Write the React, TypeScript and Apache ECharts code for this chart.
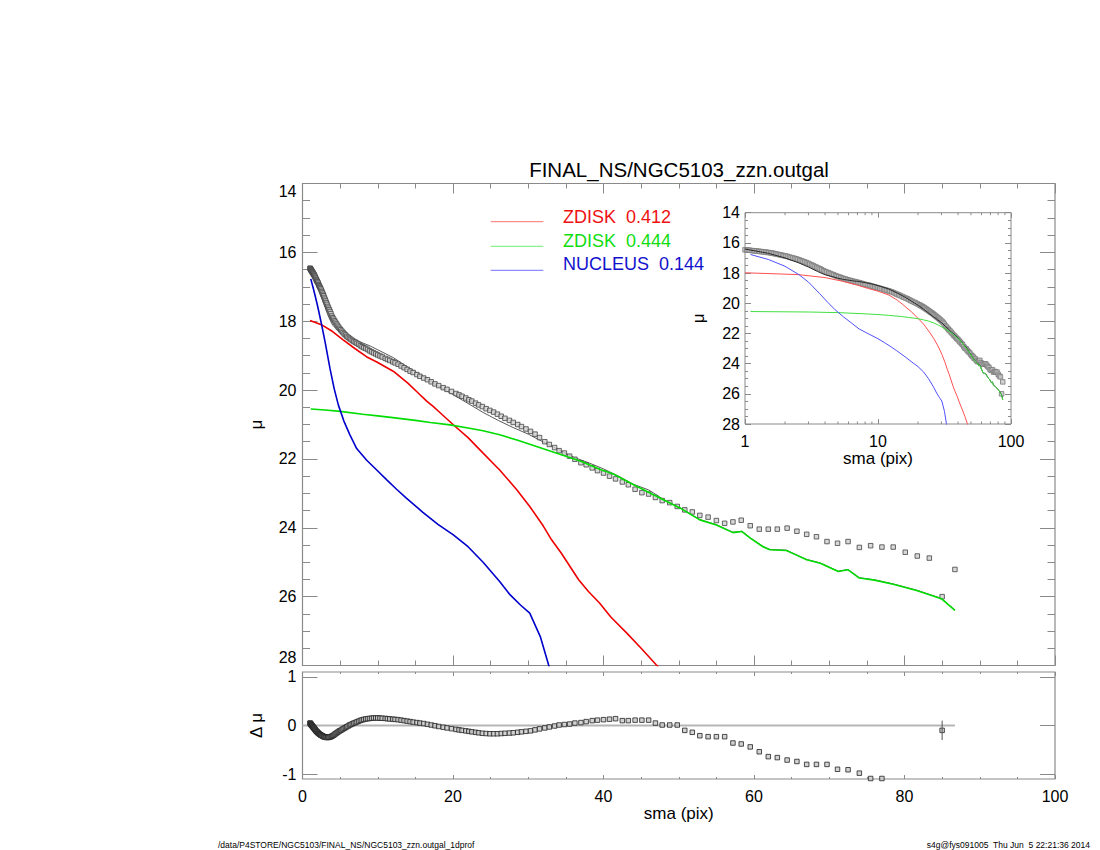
import React, { useEffect, useRef } from "react";
import * as echarts from "echarts";

const FONT = "Liberation Sans, Arial, Helvetica, sans-serif";

// observed profile (sma in pix, surface brightness mu)
const sma = [
  1.00,1.03,1.06,1.09,1.13,1.16,1.19,1.23,1.27,1.30,
  1.34,1.38,1.43,1.47,1.51,1.56,1.60,1.65,1.70,1.75,
  1.81,1.86,1.92,1.97,2.03,2.09,2.16,2.22,2.29,2.36,
  2.43,2.50,2.58,2.65,2.73,2.81,2.90,2.99,3.07,3.17,
  3.26,3.36,3.46,3.56,3.67,3.78,3.90,4.01,4.13,4.26,
  4.38,4.52,4.65,4.79,4.93,5.08,5.24,5.39,5.55,5.72,
  5.89,6.07,6.25,6.44,6.63,6.83,7.03,7.24,7.46,7.69,
  7.92,8.15,8.40,8.65,8.91,9.18,9.45,9.73,10.0,10.3,
  10.6,11.0,11.3,11.6,12.0,12.3,12.7,13.1,13.5,13.9,
  14.3,14.7,15.2,15.6,16.1,16.6,17.1,17.6,18.1,18.7,
  19.2,19.8,
  20.4,20.8,21.2,21.7,22.1,22.5,23.0,23.4,23.9,24.4,24.9,25.4,25.9,26.4,26.9,27.5,28.0,28.6,29.1,29.7,
  30.3,30.9,31.5,32.2,32.8,33.5,34.1,34.8,35.5,36.2,37.0,37.7,38.5,39.2,40.0,40.8,41.6,42.5,43.3,44.2,
  45.1,46.0,46.9,47.8,48.8,49.8,50.8,51.8,52.8,53.9,55.0,56.1,57.2,58.3,59.5,60.7,61.9,63.1,64.4,65.7,
  67.0,68.3,69.7,71.1,72.5,74.0,75.5,77.0,78.5,80.1,81.7,83.3,85.0,86.7];

const mu = [
  16.46,16.47,16.48,16.49,16.51,16.52,16.53,16.54,16.56,16.57,
  16.58,16.60,16.61,16.63,16.64,16.66,16.68,16.70,16.73,16.75,
  16.78,16.80,16.83,16.85,16.87,16.90,16.94,16.97,17.00,17.03,
  17.06,17.10,17.14,17.18,17.22,17.26,17.31,17.36,17.41,17.46,
  17.51,17.57,17.62,17.67,17.72,17.78,17.85,17.90,17.94,17.99,
  18.03,18.08,18.12,18.17,18.21,18.25,18.29,18.33,18.37,18.40,
  18.44,18.47,18.50,18.53,18.56,18.59,18.61,18.64,18.67,18.71,
  18.74,18.77,18.79,18.82,18.86,18.89,18.92,18.95,18.98,19.01,
  19.04,19.08,19.11,19.14,19.18,19.21,19.25,19.30,19.35,19.40,
  19.45,19.49,19.55,19.60,19.65,19.70,19.76,19.82,19.87,19.93,
  19.98,20.04,
  20.10,20.14,20.18,20.23,20.28,20.32,20.38,20.43,20.48,20.54,20.59,20.64,20.70,20.76,20.82,20.88,20.94,21.00,21.06,21.13,
  21.20,21.28,21.38,21.50,21.58,21.67,21.76,21.83,21.92,22.01,22.11,22.17,22.26,22.34,22.41,22.50,22.58,22.67,22.75,22.88,
  22.98,23.02,23.12,23.21,23.27,23.38,23.48,23.54,23.64,23.69,23.79,23.87,23.83,23.78,23.94,24.04,24.04,24.04,24.01,24.10,
  24.19,24.26,24.40,24.45,24.40,24.57,24.52,24.56,24.56,24.71,24.82,24.88,26.00,25.21];

// residuals (data - model), same radii
const dmu = [
  0.05,0.045,0.04,0.03,0.025,0.02,0.01,0.005,-0.005,-0.01,
  -0.02,-0.025,-0.035,-0.045,-0.05,-0.06,-0.07,-0.08,-0.09,-0.10,
  -0.11,-0.12,-0.13,-0.135,-0.145,-0.155,-0.165,-0.17,-0.18,-0.19,
  -0.195,-0.20,-0.21,-0.215,-0.22,-0.23,-0.235,-0.24,-0.24,-0.245,
  -0.245,-0.245,-0.245,-0.24,-0.235,-0.23,-0.22,-0.21,-0.20,-0.185,
  -0.17,-0.155,-0.14,-0.125,-0.11,-0.10,-0.085,-0.07,-0.055,-0.04,
  -0.025,-0.01,0.01,0.02,0.035,0.05,0.06,0.075,0.09,0.105,
  0.115,0.125,0.135,0.14,0.145,0.15,0.155,0.155,0.155,0.152,
  0.15,0.145,0.14,0.135,0.13,0.125,0.12,0.11,0.10,0.09,
  0.08,0.07,0.06,0.05,0.04,0.025,0.01,-0.005,-0.02,-0.035,
  -0.05,-0.065,
  -0.08,-0.09,-0.10,-0.11,-0.12,-0.13,-0.14,-0.15,-0.16,-0.165,-0.17,-0.17,-0.17,-0.165,-0.16,-0.155,-0.15,-0.14,-0.13,-0.12,
  -0.11,-0.09,-0.07,-0.05,-0.03,-0.01,0.01,0.02,0.03,0.05,0.06,0.08,0.10,0.11,0.12,0.13,0.14,0.10,0.10,0.11,
  0.11,0.11,0.05,0.01,0.01,0.01,-0.10,-0.14,-0.21,-0.23,-0.23,-0.23,-0.36,-0.38,-0.44,-0.54,-0.64,-0.66,-0.71,-0.74,
  -0.80,-0.80,-0.80,-0.90,-0.91,-0.98,-1.09,-1.09,-1.2,-1.3,-1.4,-1.4,-0.10,-1.2];

// total model
const modelSma = [1.0,1.5,2.0,2.5,3.0,3.5,4.0,4.5,5.0,5.5,6.0,6.5,7.0,8.0,9.0,10,12,14,16,18,20,22,24,26,28,30,
  32,34,36,38,40,42,44,46,48,50.2,52.8,55.0,57.2,58.4,59.5,61.2,62.1,64.3,65.5,67.0,68.8,71.2,72.5,74.0,76.0,
  78.5,81.6,84.9,86.7];
const modelMu = [16.41,16.69,17.00,17.30,17.60,17.89,18.11,18.23,18.34,18.42,18.47,18.52,18.55,18.63,18.72,18.83,
  19.05,19.33,19.60,19.88,20.13,20.39,20.65,20.88,21.09,21.28,21.51,21.73,21.95,22.11,22.29,22.50,22.74,22.90,
  23.18,23.42,23.76,23.91,24.13,24.10,24.29,24.54,24.63,24.65,24.77,24.92,25.02,25.26,25.21,25.45,25.51,
  25.63,25.81,26.05,26.39];

// components
const redSma = [1.0,2.5,4.0,5.4,7.0,8.5,10.0,12.1,14.0,15.2,16.5,17.4,18.0,20.0,22.0,24.0,26.2,28.5,30.2,32.0,
  33.1,34.4,36.7,38.0,39.5,41.0,43.1,45.0,47.0,48.0];
const redMu = [17.98,18.1,18.3,18.54,18.8,19.03,19.2,19.46,19.8,20.05,20.32,20.48,20.6,21.0,21.38,21.83,22.32,22.9,
  23.38,23.95,24.35,24.74,25.51,25.85,26.19,26.6,27.06,27.5,27.98,28.2];

const greenSma = [1.1,3.0,5.0,8.0,10.0,12.0,15.0,17.0,19.6,22.0,24.0,26.2,28.5,30.7,33.0,35.1,37.0,39.5,41.3,44.0,
  47.1,50.2,52.8,55.0,57.2,58.4,59.5,61.2,62.1,64.3,65.5,67.0,68.8,71.2,72.5,74.0,76.0,78.5,81.6,84.9,86.7];
const greenMu = [20.55,20.58,20.62,20.7,20.75,20.8,20.88,20.94,21.01,21.1,21.18,21.3,21.45,21.61,21.78,21.93,22.07,
  22.3,22.44,22.75,23.09,23.43,23.77,23.92,24.14,24.11,24.3,24.55,24.64,24.66,24.78,24.93,25.03,25.27,25.22,25.46,
  25.52,25.64,25.82,26.06,26.4];

const blueSma = [1.1,1.5,2.0,2.55,3.0,3.65,4.2,4.76,5.5,6.3,7.2,8.5,10.0,11.2,12.5,13.8,16.0,18.0,20.0,22.0,24.0,
  26.2,27.6,29.0,30.2,31.6,32.7,33.2];
const blueMu = [16.77,17.1,17.55,18.11,18.6,19.37,19.95,20.43,20.9,21.3,21.7,22.03,22.35,22.61,22.88,23.14,23.55,
  23.9,24.2,24.55,25.0,25.56,25.95,26.25,26.48,27.16,27.98,28.3];

const zeroSma = [0, 86.7];
const zeroVal = [0, 0];
const errSma = [85.0];
const errLow = [-0.30];
const errHigh = [0.10];

const insetMinorTicks = [2, 3, 4, 5, 6, 7, 8, 9, 20, 30, 40, 50, 60, 70, 80, 90];

const legendNames = ["ZDISK", "ZDISK", "NUCLEUS"];
const legendValues = ["0.412", "0.444", "0.144"];

const title = "FINAL_NS/NGC5103_zzn.outgal";
const footLeft = "/data/P4STORE/NGC5103/FINAL_NS/NGC5103_zzn.outgal_1dprof";
const footRight = "s4g@fys091005  Thu Jun  5 22:21:36 2014";

const zip = (a: number[], b: number[]) => a.map((v, i) => [v, b[i]]);

const FRAME = "#8a8a8a";

function valAxis(o: any) {
  return {
    type: "value",
    splitLine: { show: false },
    axisLine: { show: false, onZero: false },
    ...o,
  };
}

export default function App() {
  const ref = useRef<HTMLDivElement>(null);
  useEffect(() => {
    const chart = echarts.init(ref.current!, null, { renderer: "svg" });
    const tickStyle = { color: FRAME, width: 1 };
    const lbl = { fontSize: 16, color: "#000", fontFamily: FONT };
    const nameStyle = { fontSize: 17, color: "#000", fontFamily: FONT };

    const mainX = (pos: string) =>
      valAxis({
        gridIndex: 0, position: pos, min: 0, max: 100, interval: 20,
        axisTick: { inside: true, length: 10, lineStyle: tickStyle },
        minorTick: { show: true, splitNumber: 4, length: 5, lineStyle: tickStyle },
        axisLabel: { show: false },
      });
    const resX = (pos: string, labels: boolean) =>
      valAxis({
        gridIndex: 1, position: pos, min: 0, max: 100, interval: 20,
        axisTick: { inside: true, length: 4, lineStyle: tickStyle },
        minorTick: { show: true, splitNumber: 4, length: 2, lineStyle: tickStyle },
        axisLabel: labels ? { ...lbl, margin: 9 } : { show: false },
        name: labels ? "sma (pix)" : "",
        nameLocation: "middle",
        nameGap: 26,
        nameTextStyle: nameStyle,
      });
    const insetX = (pos: string, labels: boolean) => ({
      type: "log", logBase: 10, gridIndex: 2, position: pos, min: 1, max: 100,
      splitLine: { show: false },
      axisLine: { show: false, onZero: false },
      axisTick: { inside: true, length: 5, lineStyle: tickStyle },
      axisLabel: labels ? { ...lbl, margin: 9 } : { show: false },
      name: labels ? "sma (pix)" : "",
      nameLocation: "middle",
      nameGap: 26,
      nameTextStyle: nameStyle,
    });
    const mainY = (pos: string, labels: boolean) =>
      valAxis({
        gridIndex: 0, position: pos, min: 14, max: 28, interval: 2, inverse: true,
        axisTick: { inside: true, length: 15, lineStyle: tickStyle },
        minorTick: { show: true, splitNumber: 4, length: 7.5, lineStyle: tickStyle },
        axisLabel: labels
          ? { ...lbl, margin: 6, verticalAlignMinLabel: "top", verticalAlignMaxLabel: "bottom" }
          : { show: false },
        name: labels ? "μ" : "",
        nameLocation: "middle",
        nameGap: 38,
        nameTextStyle: nameStyle,
      });
    const resY = (pos: string, labels: boolean) =>
      valAxis({
        gridIndex: 1, position: pos, min: -1.1, max: 1.1,
        axisTick: { inside: true, length: 15, lineStyle: tickStyle, customValues: [-1, 0, 1] },
        axisLabel: labels ? { ...lbl, margin: 6, customValues: [-1, 0, 1] } : { show: false },
        name: labels ? "Δ μ" : "",
        nameLocation: "middle",
        nameGap: 38,
        nameTextStyle: nameStyle,
      });
    const insetY = (pos: string, labels: boolean) =>
      valAxis({
        gridIndex: 2, position: pos, min: 14, max: 28, interval: 2, inverse: true,
        axisTick: { inside: true, length: 6, lineStyle: tickStyle },
        minorTick: { show: true, splitNumber: 4, length: 3, lineStyle: tickStyle },
        axisLabel: labels ? { ...lbl, margin: 5 } : { show: false },
        name: labels ? "μ" : "",
        nameLocation: "middle",
        nameGap: 38,
        nameTextStyle: nameStyle,
      });

    const line = (data: number[][], color: string, width: number, xi: number, yi: number, z = 3) => ({
      type: "line", data, xAxisIndex: xi, yAxisIndex: yi, showSymbol: false, symbol: "none",
      lineStyle: { color, width }, z, silent: true,
    });

    const legendColors = ["#ee1111", "#11dd11", "#1111cc"];
    const legendLineColors = ["#ff7070", "#70ee70", "#7070ff"];
    const legendY = [217, 240.5, 264];
    const legendLineY = [221.7, 246.3, 270.3];
    const graphics: any[] = [
      {
        type: "text", x: 679, y: 169,
        style: { text: title, fontSize: 20.5, fontFamily: FONT, fill: "#000", align: "center", verticalAlign: "middle" },
      },
      {
        type: "text", x: 218, y: 845,
        style: { text: footLeft, fontSize: 8.5, fontFamily: FONT, fill: "#000", align: "left", verticalAlign: "middle" },
      },
      {
        type: "text", x: 1090, y: 845,
        style: { text: footRight.replace(/ /g, "\u00a0"), fontSize: 8.5, fontFamily: FONT, fill: "#000", align: "right", verticalAlign: "middle" },
      },
    ];
    legendNames.forEach((n, i) => {
      graphics.push({
        type: "line",
        shape: { x1: 490.7, y1: legendLineY[i], x2: 543.3, y2: legendLineY[i] },
        style: { stroke: legendLineColors[i], lineWidth: 1 },
      });
      graphics.push({
        type: "text", x: 563, y: legendY[i],
        style: {
          text: n + "\u00a0\u00a0" + legendValues[i], fontSize: 18, fontFamily: FONT,
          fill: legendColors[i], align: "left", verticalAlign: "middle",
        },
      });
    });

    const option: any = {
      animation: false,
      backgroundColor: "#fff",
      grid: [
        { left: 302.5, top: 183.5, width: 752.5, height: 482, show: true, borderColor: FRAME, borderWidth: 1.2, backgroundColor: "transparent" },
        { left: 302.5, top: 672, width: 752.5, height: 107, show: true, borderColor: FRAME, borderWidth: 1.2, backgroundColor: "transparent" },
        { left: 745, top: 212.7, width: 266, height: 211.3, show: true, borderColor: FRAME, borderWidth: 1, backgroundColor: "#fff" },
      ],
      xAxis: [mainX("bottom"), mainX("top"), resX("bottom", true), resX("top", false), insetX("bottom", true), insetX("top", false)],
      yAxis: [mainY("left", true), mainY("right", false), resY("left", true), resY("right", false), insetY("left", true), insetY("right", false)],
      graphic: graphics,
      series: [
        // main panel
        line(zip(modelSma, modelMu), "#5a5a5a", 1, 0, 0, 2),
        {
          type: "scatter", data: zip(sma, mu), xAxisIndex: 0, yAxisIndex: 0, symbol: "rect", symbolSize: 4.5,
          itemStyle: { color: "#cfcfcf", borderColor: "#444", borderWidth: 1 }, z: 3, silent: true,
        },
        line(zip(redSma, redMu), "#ee0000", 1.6, 0, 0, 4),
        line(zip(greenSma, greenMu), "#00dd00", 1.6, 0, 0, 4),
        line(zip(blueSma, blueMu), "#0000cc", 1.6, 0, 0, 4),
        // residual panel
        line(zip(zeroSma, zeroVal), "#b5b5b5", 2, 2, 2, 2),
        {
          type: "scatter", data: zip(sma, dmu), xAxisIndex: 2, yAxisIndex: 2, symbol: "rect", symbolSize: 4.5,
          itemStyle: { color: "#c8c8c8", borderColor: "#222", borderWidth: 1 }, z: 3, silent: true,
        },
        {
          type: "custom", xAxisIndex: 2, yAxisIndex: 2, z: 4, silent: true,
          data: errSma.map((s, i) => [s, errLow[i], errHigh[i]]),
          renderItem: (params: any, api: any) => {
            const p1 = api.coord([api.value(0), api.value(1)]);
            const p2 = api.coord([api.value(0), api.value(2)]);
            return { type: "line", shape: { x1: p1[0], y1: p1[1], x2: p2[0], y2: p2[1] }, style: { stroke: "#555", lineWidth: 1 } };
          },
        },
        // inset
        {
          type: "scatter", data: zip(sma, mu), xAxisIndex: 4, yAxisIndex: 4, symbol: "rect", symbolSize: 4.5,
          itemStyle: { color: "#c4c4c4", borderColor: "#7a7a7a", borderWidth: 1 }, z: 5, silent: true,
        },
        line(zip(modelSma, modelMu), "#2a2a2a", 1, 4, 4, 6),
        line(zip(redSma, redMu), "#ff5050", 1, 4, 4, 6),
        line(zip(greenSma, greenMu), "#40e040", 1, 4, 4, 6),
        line(zip(blueSma, blueMu), "#5050ff", 1, 4, 4, 6),
        {
          type: "custom", xAxisIndex: 4, yAxisIndex: 4, z: 6, silent: true, clip: false,
          data: insetMinorTicks.map((v) => [v, 14]),
          renderItem: (params: any, api: any) => {
            const x = api.coord([api.value(0), 14])[0];
            const cs = params.coordSys;
            return {
              type: "group",
              children: [
                { type: "line", shape: { x1: x, y1: cs.y + cs.height, x2: x, y2: cs.y + cs.height - 2.5 }, style: { stroke: FRAME, lineWidth: 1 } },
                { type: "line", shape: { x1: x, y1: cs.y, x2: x, y2: cs.y + 2.5 }, style: { stroke: FRAME, lineWidth: 1 } },
              ],
            };
          },
        },
      ],
    };
    chart.setOption(option);
    return () => chart.dispose();
  }, []);
  return (
    <div
      ref={ref}
      style={{ position: "fixed", left: 0, top: 0, width: 1100, height: 850, background: "#fff" }}
    />
  );
}
